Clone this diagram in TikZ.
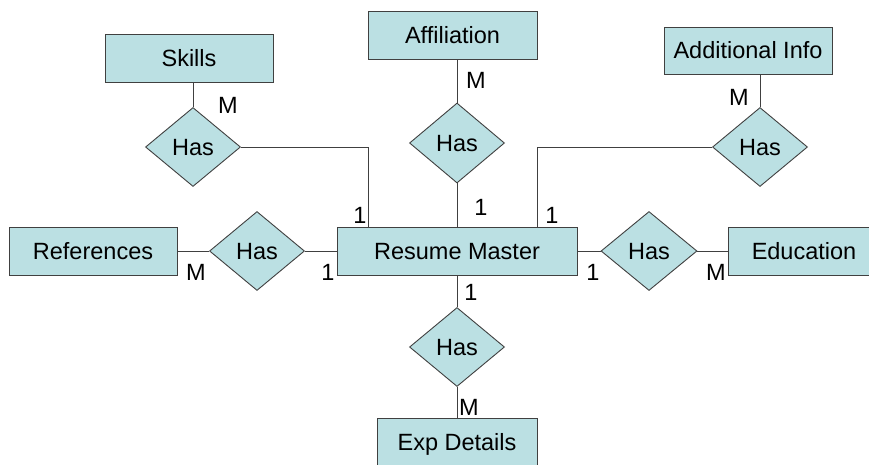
\documentclass[tikz,border=0pt]{standalone}
\usepackage{fontspec}
\setmainfont{Liberation Sans}
\usetikzlibrary{shapes.geometric}
\definecolor{boxfill}{RGB}{187,224,227}
\definecolor{edge}{RGB}{64,64,64}
\begin{document}
\begin{tikzpicture}[x=1pt,y=-1pt,
  font=\fontsize{23.5}{27}\selectfont,
  entity/.style={draw=edge,fill=boxfill,line width=0.9pt,inner sep=0pt,minimum height=48pt,text height=16.8pt,text depth=0pt},
  rel/.style={draw=edge,fill=boxfill,line width=0.9pt,diamond,inner sep=0pt,minimum width=95pt,minimum height=79pt,text height=16.8pt,text depth=0pt},
  conn/.style={draw=edge,line width=0.9pt},
  card/.style={inner sep=0pt,text height=16.8pt,text depth=0pt}]
\clip (0,0) rectangle (869,464);
\fill[white] (0,0) rectangle (869,464);
% entities
\node[entity,minimum width=168pt] (skills) at (189,58) {Skills};
\node[entity,minimum width=169pt] (affil) at (452.5,35) {Affiliation};
\node[entity,minimum width=168pt,minimum height=47pt] (addinfo) at (748,50.5) {Additional Info};
\node[entity,minimum width=168pt] (refs) at (93,251) {References};
\node[entity,minimum width=240pt] (rm) at (457,251) {Resume Master};
\node[entity,minimum width=152pt] (edu) at (804,251) {Education};
\node[entity,minimum width=160pt] (exp) at (457,442) {Exp Details};
% relationships
\node[rel] (hs) at (193,147) {Has};
\node[rel,minimum height=80pt] (ha) at (457,143) {Has};
\node[rel] (hi) at (760,147) {Has};
\node[rel] (hr) at (257,251) {Has};
\node[rel,minimum width=96pt] (he) at (649,251) {Has};
\node[rel] (hx) at (457,347) {Has};
% connectors
\draw[conn] (hs.north) -- (hs.north |- skills.south);
\draw[conn] (hs.east) -| ([xshift=32pt]rm.north west);
\draw[conn] (ha.north) -- (ha.north |- affil.south);
\draw[conn] (ha.south) -- (rm.north);
\draw[conn] (hi.north) -- (hi.north |- addinfo.south);
\draw[conn] (hi.west) -| ([xshift=-40pt]rm.north east);
\draw[conn] (refs.east) -- (hr.west);
\draw[conn] (hr.east) -- (rm.west);
\draw[conn] (rm.east) -- (he.west);
\draw[conn] (he.east) -- (edu.west);
\draw[conn] (rm.south) -- (hx.north);
\draw[conn] (hx.south) -- (exp.north);
% cardinalities
\node[card] (c1) at (228,105) {M};
\node[card] (c2) at (360,215) {1};
\node[card] (c3) at (476,80) {M};
\node[card] (c4) at (481,207) {1};
\node[card] (c5) at (739,97) {M};
\node[card] (c6) at (552,215) {1};
\node[card] (c7) at (196,272) {M};
\node[card] (c8) at (328,272) {1};
\node[card] (c9) at (593,272) {1};
\node[card] (c10) at (716,272) {M};
\node[card] (c11) at (471,292) {1};
\node[card] (c12) at (469,407) {M};
\end{tikzpicture}
\end{document}
